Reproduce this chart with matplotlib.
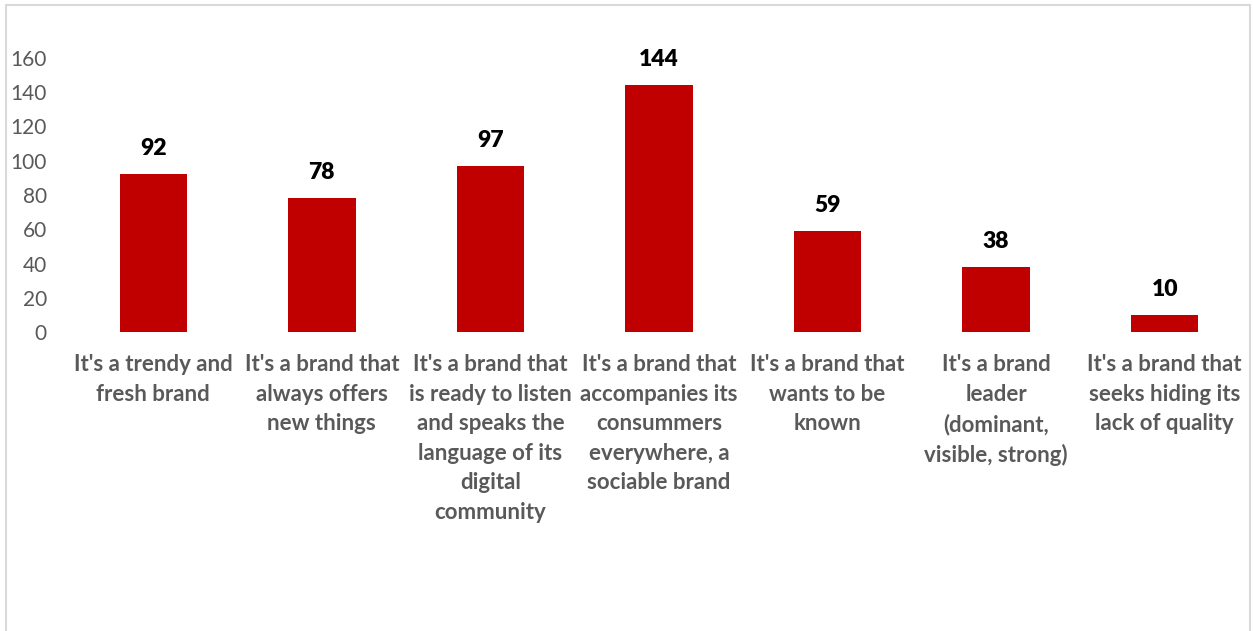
import matplotlib.pyplot as plt
from matplotlib.patches import Rectangle

categories = [
    "It's a trendy and\nfresh brand",
    "It's a brand that\nalways offers\nnew things",
    "It's a brand that\nis ready to listen\nand speaks the\nlanguage of its\ndigital\ncommunity",
    "It's a brand that\naccompanies its\nconsummers\neverywhere, a\nsociable brand",
    "It's a brand that\nwants to be\nknown",
    "It's a brand\nleader\n(dominant,\nvisible, strong)",
    "It's a brand that\nseeks hiding its\nlack of quality",
]
values = [92, 78, 97, 144, 59, 38, 10]
yticks = [0, 20, 40, 60, 80, 100, 120, 140, 160]

W, H = 1253, 631
fig = plt.figure(figsize=(W / 100, H / 100), dpi=100)
plt.rcParams['font.family'] = ['Lato', 'DejaVu Sans']

# light frame around the chart area
fig.patches.append(Rectangle((6 / W, -0.1), (1250 - 6) / W, 1.1 - 5 / H,
                             transform=fig.transFigure, fill=False,
                             edgecolor='#d9d9d9', linewidth=1.5))

ax = fig.add_axes([69 / W, 1 - 332 / H, (1249 - 69) / W, (332 - 58) / H])
x = range(len(values))
bars = ax.bar(x, values, width=0.4, color='#c00000')
ax.set_xlim(-0.5, len(values) - 0.5)
ax.set_ylim(0, 160)
ax.set_yticks(yticks)
ax.tick_params(axis='y', length=0, pad=16, labelsize=15, labelcolor='#595959')
ax.set_xticks([])
for s in ax.spines.values():
    s.set_visible(False)

for i, v in enumerate(values):
    ax.annotate(str(v), (i, v), xytext=(0, 11), textcoords='offset points',
                ha='center', va='bottom', fontsize=16.5, fontweight='heavy',
                color='black', annotation_clip=False)

for i, lab in enumerate(categories):
    ax.annotate(lab, (i, 0), xytext=(0, -16), textcoords='offset points',
                ha='center', va='top', fontsize=16, fontweight='bold',
                color='#595959', linespacing=1.5, annotation_clip=False)

fig.savefig('out.png', dpi=100)
